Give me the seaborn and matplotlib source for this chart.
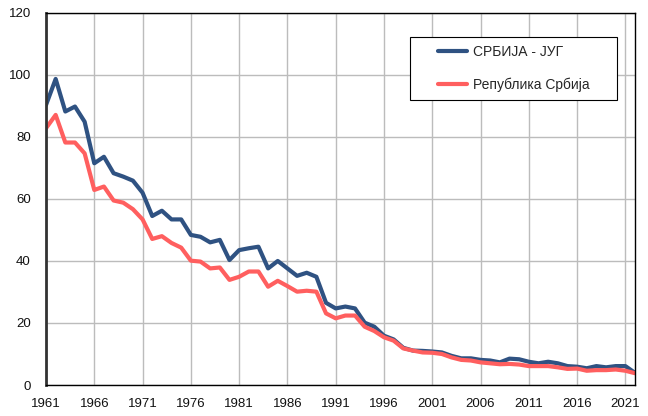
import numpy as np
import pandas as pd
import matplotlib
matplotlib.use("Agg")
import matplotlib.pyplot as plt
import seaborn as sns
from matplotlib.patches import Rectangle

years = list(range(1961, 2023))

srbija_jug = [
    90.3, 98.7, 88.2, 89.8, 84.9, 71.5, 73.6, 68.3, 67.2, 65.9,
    62.0, 54.5, 56.2, 53.4, 53.4, 48.4, 47.8, 46.0, 46.8, 40.3,
    43.5, 44.1, 44.6, 37.6, 40.0, 37.6, 35.2, 36.2, 34.9, 26.5,
    24.7, 25.3, 24.7, 20.1, 18.8, 15.9, 14.7, 12.0, 11.1, 11.0,
    10.8, 10.5, 9.4, 8.6, 8.6, 8.1, 7.9, 7.3, 8.5, 8.3,
    7.5, 7.0, 7.5, 7.0, 6.1, 5.9, 5.4, 6.1, 5.7, 6.1,
    6.1, 3.9,
]

republika_srbija = [
    82.8, 87.1, 78.2, 78.2, 74.7, 62.9, 64.0, 59.5, 58.8, 56.7,
    53.4, 47.1, 48.0, 45.8, 44.3, 40.1, 39.8, 37.6, 37.9, 33.9,
    34.9, 36.6, 36.6, 31.7, 33.6, 31.9, 30.1, 30.4, 30.1, 23.1,
    21.5, 22.4, 22.4, 18.8, 17.4, 15.4, 14.3, 11.8, 11.1, 10.5,
    10.4, 10.0, 8.9, 8.1, 7.9, 7.3, 7.0, 6.7, 6.8, 6.6,
    6.1, 6.1, 6.1, 5.7, 5.2, 5.3, 4.6, 4.8, 4.8, 5.0,
    4.6, 3.8,
]

series_names = ["СРБИЈА - ЈУГ", "Република Србија"]
colors = ["#2f5282", "#ff5f5f"]
x_ticks = list(range(1961, 2022, 5))
y_ticks = list(range(0, 121, 20))

df = pd.DataFrame({
    "year": years * 2,
    "value": srbija_jug + republika_srbija,
    "series": [series_names[0]] * len(years) + [series_names[1]] * len(years),
})

sns.set_style("white")
plt.rcParams["font.family"] = ["Liberation Sans", "DejaVu Sans"]

fig = plt.figure(figsize=(6.48, 4.16), dpi=100)
ax = fig.add_axes([0.071, 0.0745, 0.909, 0.8945])

sns.lineplot(data=df, x="year", y="value", hue="series",
             palette=dict(zip(series_names, colors)), linewidth=3,
             ax=ax, legend=False)

# ── axes ─────────────────────────
ax.set_xlim(1961, 2022)
ax.set_ylim(0, 120)
ax.set_xticks(x_ticks)
ax.set_yticks(y_ticks)
ax.set_xlabel("")
ax.set_ylabel("")
ax.tick_params(axis="both", length=0, labelsize=9.5, colors="#111111")
ax.tick_params(axis="x", pad=9)
ax.tick_params(axis="y", pad=11)
ax.grid(True, color="#bcbcbc", linewidth=1)
ax.set_axisbelow(True)
for side in ["top", "right", "bottom"]:
    ax.spines[side].set_color("black")
    ax.spines[side].set_linewidth(1)
ax.spines["left"].set_color("#333333")
ax.spines["left"].set_linewidth(2)

# ── legend ───────────────────────
ax.add_patch(Rectangle((0.618, 0.766), 0.351, 0.169, transform=ax.transAxes,
                       facecolor="white", edgecolor="black", linewidth=0.8,
                       zorder=4))
handles = [plt.Line2D([], [], color=c, linewidth=3) for c in colors]
ax.legend(handles, series_names, loc="upper left",
          bbox_to_anchor=(0.665, 0.915), frameon=False, fontsize=10,
          handlelength=2.1, handletextpad=0.45, labelspacing=1.35,
          borderpad=0, borderaxespad=0).set_zorder(5)

fig.savefig("out.png", dpi=100)
